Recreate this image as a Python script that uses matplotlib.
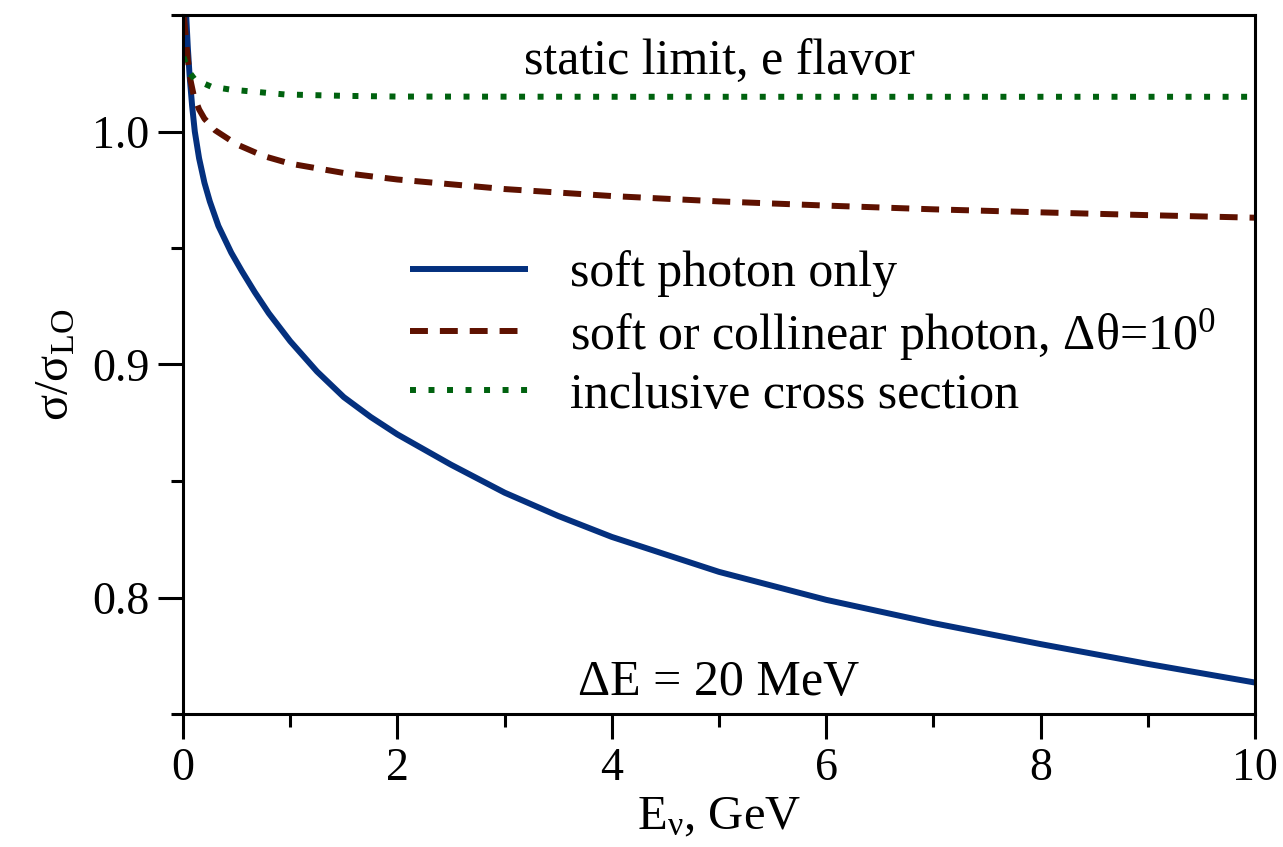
import matplotlib
matplotlib.use("Agg")
import matplotlib.pyplot as plt
from matplotlib.ticker import MultipleLocator, FormatStrFormatter

plt.rcParams["font.family"] = ["Liberation Serif", "DejaVu Serif"]
plt.rcParams["mathtext.fontset"] = "custom"
plt.rcParams["mathtext.rm"] = "Liberation Serif"
plt.rcParams["mathtext.it"] = "Liberation Serif"

# values
E_soft = [0.03, 0.045, 0.062, 0.085, 0.11, 0.15, 0.20, 0.25, 0.33, 0.45, 0.55,
          0.67, 0.8, 1.0, 1.25, 1.5, 1.75, 2.0, 2.5, 3.0, 3.5, 4.0, 5.0, 6.0,
          7.0, 8.0, 9.0, 10.0]
soft = [1.0495, 1.036, 1.0237, 1.011, 1.000, 0.9885, 0.978, 0.970, 0.9595,
        0.948, 0.940, 0.931, 0.922, 0.910, 0.897, 0.886, 0.8775, 0.870,
        0.857, 0.845, 0.835, 0.826, 0.811, 0.799, 0.789, 0.780, 0.7715,
        0.7635]

E_coll = [0.01, 0.025, 0.045, 0.07, 0.1, 0.15, 0.2, 0.3, 0.5, 0.75, 1.0, 1.5,
          2.0, 3.0, 4.0, 5.0, 6.0, 7.0, 8.0, 9.0, 10.0]
coll = [1.049, 1.041, 1.031, 1.022, 1.0155, 1.0095, 1.0055, 1.0005, 0.9945,
        0.9895, 0.9862, 0.9822, 0.9794, 0.9753, 0.9723, 0.970, 0.9682,
        0.9666, 0.9653, 0.9641, 0.963]

E_incl = [0.005, 0.02, 0.05, 0.11, 0.26, 0.44, 0.61, 0.95, 1.5, 2.0, 4.0,
          7.0, 10.0]
incl = [1.032, 1.030, 1.026, 1.0223, 1.0193, 1.018, 1.0173, 1.0159, 1.0153,
        1.015, 1.0149, 1.0149, 1.0149]

labels = ["soft photon only",
          r"soft or collinear photon, Δθ=10$^{0}$",
          "inclusive cross section"]

fs_tick = 33
fs = 36

fig = plt.figure(figsize=(12.83, 8.47), dpi=100)
ax = fig.add_axes([183 / 1283, 1 - 714 / 847, (1255 - 183) / 1283, (714 - 15) / 847])

lw = 4.3
ax.plot(E_soft, soft, color="#04307e", lw=lw, label=labels[0], solid_capstyle="butt")
ax.plot(E_coll, coll, color="#5e1100", lw=lw, dashes=(3.0, 2.0), label=labels[1],
        dash_capstyle="butt")
ax.plot(E_incl, incl, color="#00620f", lw=lw, dashes=(1, 2.1), label=labels[2],
        dash_capstyle="butt")

ax.set_xlim(0, 10)
ax.set_ylim(0.75, 1.05)
ax.xaxis.set_major_locator(MultipleLocator(2))
ax.xaxis.set_minor_locator(MultipleLocator(1))
ax.yaxis.set_major_locator(MultipleLocator(0.1))
ax.yaxis.set_minor_locator(MultipleLocator(0.05))
ax.yaxis.set_major_formatter(FormatStrFormatter("%.1f"))

for s in ax.spines.values():
    s.set_linewidth(2.2)
ax.tick_params(which="both", direction="out", width=2.2, labelsize=fs_tick,
               top=False, right=False)
ax.tick_params(which="major", length=18, pad=6)
ax.tick_params(which="minor", length=9)

ax.set_xlabel(r"E$_{\mathrm{ν}}$, GeV", fontsize=35, labelpad=4)
ax.set_ylabel(r"σ/σ$_{\mathrm{LO}}$", fontsize=35, labelpad=10)

ax.text(0.5, 0.932, "static limit, e flavor", transform=ax.transAxes,
        ha="center", va="center", fontsize=fs)
ax.text(0.5, 0.044, "ΔE = 20 MeV", transform=ax.transAxes,
        ha="center", va="center", fontsize=fs)

leg = ax.legend(loc="upper left", bbox_to_anchor=(0.193, 0.692), frameon=False,
                fontsize=fs, handlelength=2.36, handletextpad=0.84,
                labelspacing=0.19, borderaxespad=0)

fig.savefig("out.png", dpi=100)
